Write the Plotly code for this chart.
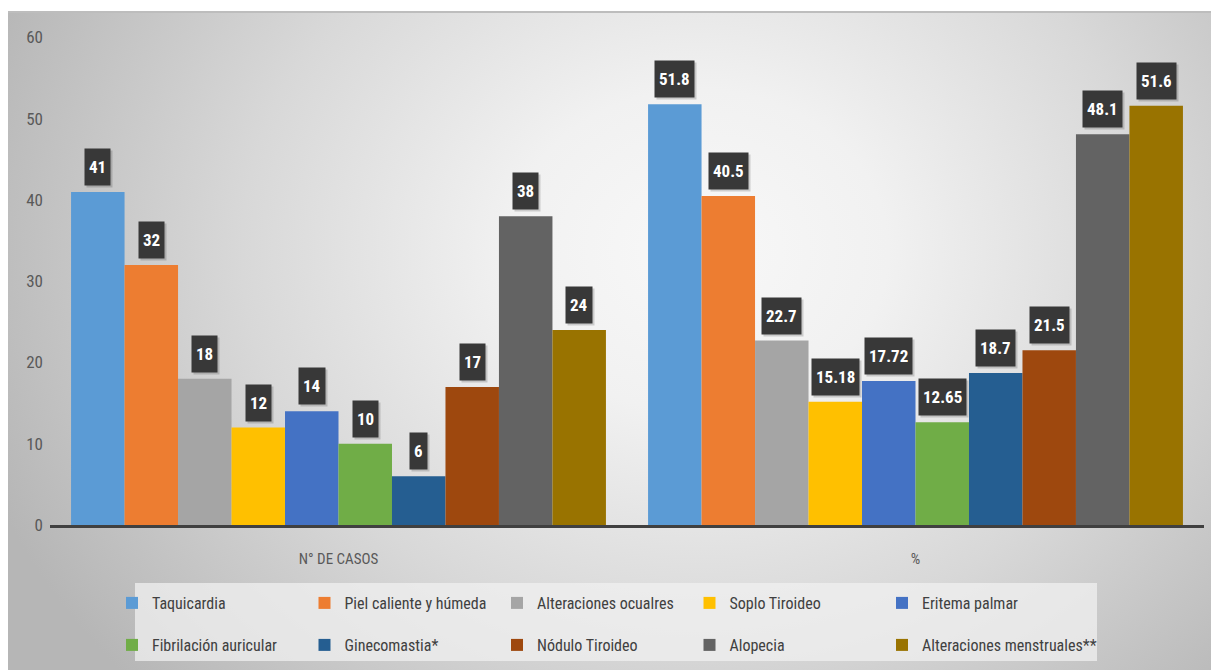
import base64
import plotly.graph_objects as go

# Grupos del eje X
grupos = ["N° DE CASOS", "%"]

# Signos clínicos
signos = [
    "Taquicardia",
    "Piel caliente y húmeda",
    "Alteraciones ocualres",
    "Soplo Tiroideo",
    "Eritema palmar",
    "Fibrilación auricular",
    "Ginecomastia*",
    "Nódulo Tiroideo",
    "Alopecia",
    "Alteraciones menstruales**",
]

# Número de casos por signo
casos = [41, 32, 18, 12, 14, 10, 6, 17, 38, 24]
# Porcentaje por signo
porcentajes = [51.8, 40.5, 22.7, 15.18, 17.72, 12.65, 18.7, 21.5, 48.1, 51.6]

colores = [
    "#5B9BD5", "#ED7D31", "#A5A5A5", "#FFC000", "#4472C4",
    "#70AD47", "#255E91", "#9E480E", "#636363", "#997300",
]

W, H = 1211, 670
FUENTE = "Liberation Sans Narrow, Roboto Condensed, Liberation Sans, sans-serif"
BARGAP = 0.073

fig = go.Figure()

# La leyenda se reparte en dos filas; el último elemento va aparte para que
# su texto largo no quede recortado.
for i, nombre in enumerate(signos):
    if i < 5:
        ley = "legend"
    elif i < 9:
        ley = "legend2"
    else:
        ley = "legend3"
    fig.add_trace(go.Bar(
        name=nombre,
        x=grupos,
        y=[casos[i], porcentajes[i]],
        marker=dict(color=colores[i], line=dict(width=0)),
        legend=ley,
        hoverinfo="x+y+name",
    ))

# Etiquetas de valor en recuadro oscuro sobre cada barra
n = len(signos)
ancho = (1 - BARGAP) / n
anotaciones = []
fuente_etq = dict(family=FUENTE, size=17, color="white", weight="bold")
for i in range(n):
    desplazamiento = -0.5 * (1 - BARGAP) + ancho * (i + 0.5)
    for g, valores in enumerate([casos, porcentajes]):
        v = valores[i]
        comun = dict(
            x=g + desplazamiento, y=v, xref="x", yref="y",
            text=f"{v:g}", showarrow=False, yanchor="bottom",
            height=28, borderpad=4,
        )
        # sombra del recuadro
        anotaciones.append(dict(comun, xshift=2, yshift=4,
                                bgcolor="rgba(0,0,0,0.16)",
                                font=dict(fuente_etq, color="rgba(0,0,0,0)")))
        anotaciones.append(dict(comun, yshift=6, bgcolor="#383838",
                                font=fuente_etq))

# Fondo con degradado radial
svg = f"""<svg xmlns='http://www.w3.org/2000/svg' width='{W-8}' height='{H-11}'>
<defs>
<radialGradient id='g' gradientUnits='userSpaceOnUse' cx='690' cy='240' r='760'
 gradientTransform='translate(690 240) scale(1 0.85) translate(-690 -240)'>
<stop offset='0' stop-color='#f8f8f8'/>
<stop offset='0.25' stop-color='#f1f1f1'/>
<stop offset='0.6' stop-color='#d8d8d8'/>
<stop offset='1' stop-color='#b6b6b6'/>
</radialGradient>
</defs>
<rect x='0' y='0' width='{W-8}' height='{H-11}' fill='url(#g)'/>
<rect x='0' y='0' width='{W-8}' height='2' fill='#bdbdbd'/>
</svg>"""
fuente_svg = "data:image/svg+xml;base64," + base64.b64encode(svg.encode()).decode()

COL = 192.5  # separación entre columnas de la leyenda (px)
X0 = 112     # inicio de la primera columna (px)

leyenda_comun = dict(
    orientation="h",
    bgcolor="rgba(0,0,0,0)",
    font=dict(family=FUENTE, size=16, color="#404040"),
    entrywidth=COL - 45,
    entrywidthmode="pixels",
    xref="container", yref="container",
    xanchor="left",
    yanchor="middle",
    itemclick=False,
    itemdoubleclick=False,
)

fig.update_layout(
    width=W, height=H, autosize=False,
    margin=dict(l=0, r=0, t=0, b=0, autoexpand=False),
    paper_bgcolor="white",
    plot_bgcolor="rgba(0,0,0,0)",
    barmode="group",
    bargap=BARGAP,
    bargroupgap=0,
    font=dict(family=FUENTE, color="#595959"),
    xaxis=dict(
        domain=[50 / W, 1204 / W],
        showline=True, linecolor="#404040", linewidth=3,
        showgrid=False, ticks="",
        tickfont=dict(family=FUENTE, size=15, color="#595959"),
        ticklabelstandoff=18,
        automargin=False,
        fixedrange=True,
    ),
    yaxis=dict(
        domain=[(H - 525) / H, (H - 37.5) / H],
        range=[0, 60], dtick=10,
        showgrid=False, zeroline=False, showline=False, ticks="",
        tickfont=dict(family=FUENTE, size=17, color="#595959"),
        ticklabelstandoff=6,
        automargin=False,
        fixedrange=True,
    ),
    legend=dict(leyenda_comun, x=X0 / W, y=1 - 603 / H),
    legend2=dict(leyenda_comun, x=X0 / W, y=1 - 645 / H),
    legend3=dict(leyenda_comun, x=(X0 + 4 * COL) / W, y=1 - 645 / H,
                 entrywidth=0),
    annotations=anotaciones,
    images=[dict(
        source=fuente_svg, xref="paper", yref="paper",
        x=8 / W, y=1 - 11 / H, sizex=1 - 8 / W, sizey=1 - 11 / H,
        xanchor="left", yanchor="top", sizing="stretch", layer="below",
    )],
    shapes=[dict(
        type="rect", xref="paper", yref="paper",
        x0=135 / W, x1=1097 / W, y0=1 - 661 / H, y1=1 - 583 / H,
        fillcolor="rgba(240,240,240,0.75)", line=dict(width=0), layer="below",
    )],
)

fig.write_html(
    "out.html",
    post_script="document.body.style.margin='0';document.body.style.overflow='hidden';",
)
